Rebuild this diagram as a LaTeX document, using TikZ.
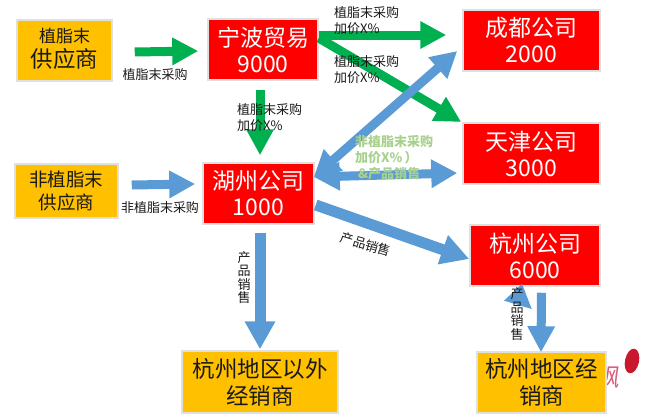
\documentclass[tikz,border=0pt]{standalone}
\usepackage{fontspec}
\setmainfont{Noto Sans CJK SC}
\usetikzlibrary{arrows.meta,calc}
\definecolor{gr}{HTML}{00B050}
\definecolor{bl}{HTML}{5B9BD5}
\definecolor{lg}{HTML}{A9D18E}
\definecolor{org}{HTML}{FFC000}
\definecolor{wmk}{HTML}{D8607C}
\definecolor{wmb}{HTML}{C8182E}
\tikzset{
 box/.style={inner sep=0pt,draw=black!12,line width=1.5pt,align=center},
 redbox/.style={box,fill=red,text=white,font=\fontsize{23}{26}\selectfont},
 orgbox/.style={box,fill=org,text=black!90},
 lab/.style={inner sep=0pt,align=left,anchor=west,font=\fontsize{13}{16}\selectfont,text=black!90},
 vlab/.style={inner sep=0pt,align=center,font=\fontsize{13}{13.5}\selectfont,text=black!90},
 garrow/.style={-{Triangle[length=26pt,width=26pt]},line width=9pt,draw=gr,fill=gr},
 barrow/.style={-{Triangle[length=26pt,width=26pt]},line width=9pt,draw=bl,fill=bl},
 bigbarrow/.style={-{Triangle[length=28pt,width=29pt]},line width=11pt,draw=bl,fill=bl},
 dbarrow/.style={{Triangle[length=26pt,width=27pt]}-{Triangle[length=26pt,width=27pt]},line width=9pt,draw=bl,fill=bl},
}
\begin{document}
\begin{tikzpicture}[x=1pt,y=-1pt]
\useasboundingbox (0,0) rectangle (646,415);
% watermark
\node[inner sep=0pt,text=wmk,font=\fontsize{25}{25}\selectfont,xslant=0.15] (wm) at (608,377) {飒};
\fill[wmb,rotate around={-12:(632,361)}] (632,361) ellipse [x radius=7,y radius=12.5];
% boxes
\node[orgbox,minimum width=95pt,minimum height=61pt,font=\fontsize{22.5}{25}\selectfont] (s1) at (64.5,50.5)
  {{\fontsize{17}{20}\selectfont 植脂末}\\供应商\rule[-6pt]{0pt}{6pt}};
\node[orgbox,minimum width=103pt,minimum height=54pt,font=\fontsize{18.5}{23}\selectfont] (s2) at (66.5,191)
  {非植脂末\\供应商};
\node[redbox,minimum width=110pt,minimum height=61pt] (nb) at (263,49.5) {宁波贸易\\9000};
\node[redbox,minimum width=137pt,minimum height=61pt] (cd) at (531.5,40.5) {成都公司\\2000};
\node[redbox,minimum width=137pt,minimum height=61pt] (tj) at (531.5,153.5) {天津公司\\3000};
\node[redbox,minimum width=111pt,minimum height=61pt] (hz) at (258.5,193.5) {湖州公司\\1000};
\node[redbox,minimum width=130pt,minimum height=61pt] (hg) at (535,255.5) {杭州公司\\6000};
\node[orgbox,minimum width=156pt,minimum height=62pt,font=\fontsize{22.5}{27}\selectfont] (d1) at (260,382)
  {杭州地区以外\\经销商};
\node[orgbox,minimum width=129pt,minimum height=61pt,font=\fontsize{22.5}{27}\selectfont] (d2) at (541.5,382.5)
  {杭州地区经\\销商};
% arrows
\draw[garrow] ($(s1.east)+(22,1.5)$) -- ($(nb.west)+(-9,1.5)$);
\draw[garrow] ($(nb.east)+(0,-14.5)$) -- ($(cd.west)+(-16,-5.5)$);
\draw[garrow] ($(nb.east)+(0,-11.5)$) -- ($(tj.west)+(-1,-31.5)$);
\draw[garrow] ($(nb.south)+(-3,9)$) -- ($(hz.north)+(1.5,-7)$);
\draw[barrow] ($(s2.east)+(13,-6)$) -- ($(hz.west)+(-7,-9.5)$);
\draw[dbarrow] ($(hz.east)+(-1,-16.5)$) -- ($(cd.west)+(-5,10.5)$);
\draw[dbarrow] ($(hz.east)+(-1,-16.5)$) -- ($(tj.west)+(-5,19.5)$);
\draw[bigbarrow] ($(hz.east)+(1,11.5)$) -- ($(hg.west)+(0,3.5)$);
\draw[bigbarrow] ($(hz.south)+(1.5,8)$) -- ($(d1.north)+(0,-1)$);
\draw[barrow] ($(hg.south)+(6.5,6)$) -- ($(d2.north)+(-0.5,1)$);
\coordinate (up) at ($(hg.south)+(-13,-3)$);
\fill[bl] (up) -- (504,300.7) -- (531.7,309) -- cycle;
% labels
\node[lab,anchor=center] (l1) at (155,75) {植脂末采购};
\node[lab,anchor=center] (l2) at (160,208) {非植脂末采购};
\node[lab] (l3) at (334,21) {植脂末采购\\加价X\%};
\node[lab] (l4) at (334,70) {植脂末采购\\加价X\%};
\node[lab] (l5) at (237,118) {植脂末采购\\加价X\%};
\node[lab,text=lg,font=\fontsize{13}{16}\bfseries\selectfont] (l6) at (355,158) {非植脂末采购\\加价X\%\,）\\\ \&产品销售};
\node[lab,anchor=center,rotate=-17] (l7) at (366,244.5) {产品销售};
\node[vlab] (l8) at (244,277.5) {产\\品\\销\\售};
\node[vlab] (l9) at (517,314) {产\\品\\销\\售};
\end{tikzpicture}
\end{document}
